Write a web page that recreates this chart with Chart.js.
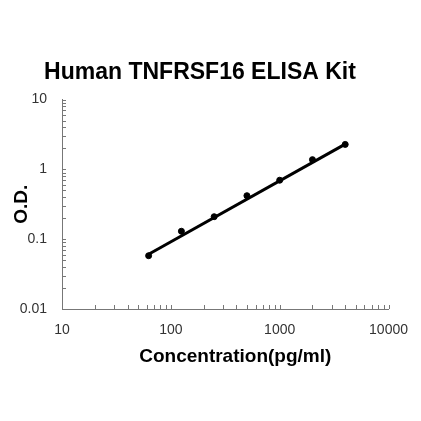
<!DOCTYPE html>
<html>
<head>
<meta charset="utf-8">
<script src="https://cdn.jsdelivr.net/npm/chart.js@4.4.1/dist/chart.umd.min.js"></script>
<style>
  html, body { margin: 0; padding: 0; background: #fff; }
  #wrap { width: 421px; height: 421px; }
</style>
</head>
<body>
<div id="wrap"><canvas id="elisa"></canvas></div>
<script>
// standard concentrations (pg/ml) and measured O.D.
const concentrations = [62.5, 125, 250, 500, 1000, 2000, 4000];
const odValues = [0.058, 0.13, 0.21, 0.42, 0.70, 1.38, 2.28];

// fitted line at both ends
const fitX = [62.5, 4000];
const fitY = [0.061, 2.30];

const xTicks = [10, 100, 1000, 10000];
const yTicks = [0.01, 0.1, 1, 10];

const FONT = '"Liberation Sans", Arial, sans-serif';

// small inward ticks like the original plot
const inwardTicks = {
    id: 'inwardTicks',
    afterDraw(chart) {
        const ctx = chart.ctx;
        const xs = chart.scales.x, ys = chart.scales.y;
        const area = chart.chartArea;
        ctx.save();
        ctx.strokeStyle = '#777';
        ctx.lineWidth = 1;
        ctx.beginPath();
        xTicks.slice(0, -1).forEach(d => {
            for (let m = 2; m <= 10; m++) {
                const px = Math.round(xs.getPixelForValue(d * m)) + 0.5;
                ctx.moveTo(px, area.bottom);
                ctx.lineTo(px, area.bottom - 4);
            }
        });
        yTicks.slice(0, -1).forEach(d => {
            for (let m = 2; m <= 10; m++) {
                const py = Math.round(ys.getPixelForValue(d * m)) + 0.5;
                ctx.moveTo(area.left, py);
                ctx.lineTo(area.left + 4, py);
            }
        });
        ctx.stroke();

        // x axis title sits a little right of the plot centre in the original
        ctx.fillStyle = '#000';
        ctx.font = 'bold 19px ' + FONT;
        ctx.textAlign = 'center';
        ctx.textBaseline = 'middle';
        ctx.fillText('Concentration(pg/ml)', (area.left + area.right) / 2 + 10, area.bottom + 48);
        ctx.restore();
    }
};

new Chart(document.getElementById('elisa').getContext('2d'), {
    type: 'scatter',
    data: {
        datasets: [
            {
                type: 'line',
                data: fitX.map((x, i) => ({ x: x, y: fitY[i] })),
                borderColor: '#000',
                borderWidth: 3,
                pointRadius: 0,
                fill: false
            },
            {
                data: concentrations.map((x, i) => ({ x: x, y: odValues[i] })),
                backgroundColor: '#000',
                borderColor: '#000',
                pointRadius: 3
            }
        ]
    },
    options: {
        responsive: true,
        maintainAspectRatio: false,
        animation: false,
        layout: { padding: { left: 10, right: 31, top: 0, bottom: 53 } },
        plugins: {
            legend: { display: false },
            tooltip: { enabled: false },
            title: {
                display: true,
                text: 'Human TNFRSF16 ELISA Kit',
                color: '#000',
                font: { family: FONT, size: 23, weight: 'bold' },
                padding: { top: 59, bottom: 13 }
            }
        },
        scales: {
            x: {
                type: 'logarithmic',
                min: 10,
                max: 10000,
                afterBuildTicks: s => { s.ticks = xTicks.map(v => ({ value: v })); },
                afterFit: s => { s.height = 59; },
                border: { color: '#777', width: 1 },
                grid: { display: false, drawTicks: false },
                ticks: {
                    color: '#333',
                    padding: 13,
                    maxRotation: 0,
                    font: { family: FONT, size: 14 },
                    callback: v => String(v)
                },
                title: { display: false }
            },
            y: {
                type: 'logarithmic',
                min: 0.01,
                max: 10,
                afterBuildTicks: s => { s.ticks = yTicks.map(v => ({ value: v })); },
                afterFit: s => { s.width = 52; },
                border: { color: '#777', width: 1 },
                grid: { display: false, drawTicks: false },
                ticks: {
                    color: '#333',
                    padding: 15,
                    font: { family: FONT, size: 14 },
                    callback: v => String(v)
                },
                title: {
                    display: true,
                    text: 'O.D.',
                    color: '#000',
                    padding: 0,
                    font: { family: FONT, size: 19, weight: 'bold' }
                }
            }
        }
    },
    plugins: [inwardTicks]
});
</script>
</body>
</html>
